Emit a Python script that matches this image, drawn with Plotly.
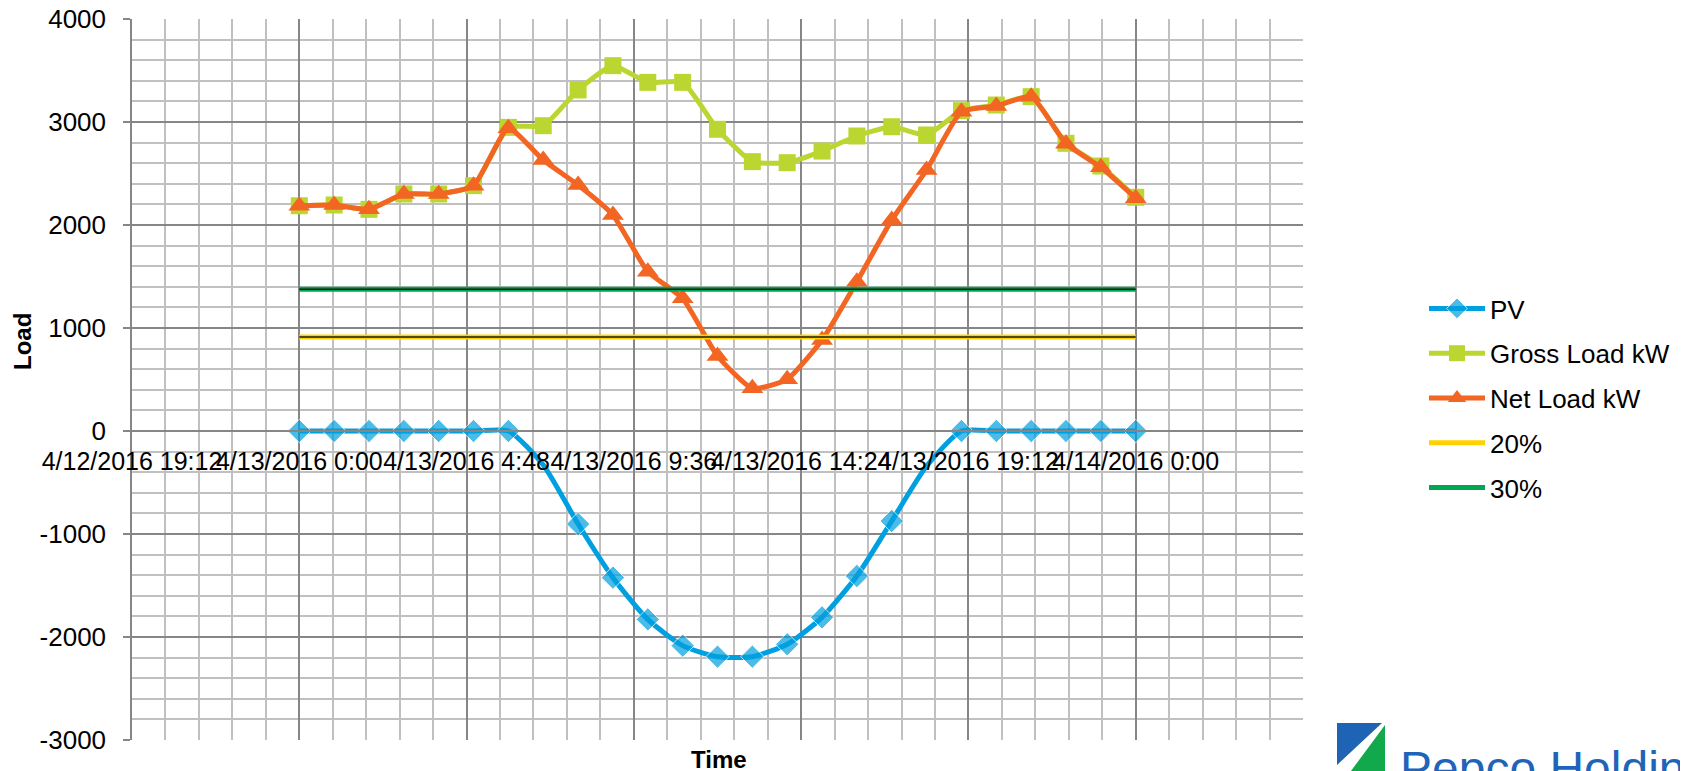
import plotly.graph_objects as go
import pandas as pd

# ---- data (hourly, 4/13/2016 0:00 .. 4/14/2016 0:00) ----
times = pd.date_range("2016-04-13 00:00", "2016-04-14 00:00", freq="h")

pv = [0, 0, 0, 0, 0, 0, 0, -330, -903, -1424, -1829, -2084, -2191,
      -2191, -2071, -1809, -1408, -874, -340, 0, 0, 0, 0, 0, 0]
gross = [2187, 2194, 2152, 2301, 2301, 2382, 2948, 2964, 3311, 3547, 3385,
         3385, 2929, 2615, 2605, 2718, 2864, 2954, 2874, 3110, 3165, 3246,
         2793, 2573, 2269]
net = [2187, 2194, 2152, 2301, 2301, 2382, 2940, 2631, 2388, 2097, 1547,
       1288, 728, 414, 502, 883, 1450, 2049, 2534, 3100, 3155, 3246,
       2790, 2560, 2260]
pct20 = [912] * 25
pct30 = [1376] * 25

series_names = ["PV", "Gross Load kW", "Net Load kW", "20%", "30%"]

x_tick_vals = pd.date_range("2016-04-12 19:12", "2016-04-14 04:48", freq="288min")
x_tick_text = ["4/12/2016 19:12", "4/13/2016 0:00", "4/13/2016 4:48",
               "4/13/2016 9:36", "4/13/2016 14:24", "4/13/2016 19:12",
               "4/14/2016 0:00", ""]
y_tick_vals = [-3000, -2000, -1000, 0, 1000, 2000, 3000, 4000]
y_tick_text = ["-3000", "-2000", "-1000", "0", "1000", "2000", "3000", "4000"]

# ---- layout geometry (page pixels; page body has an 8px margin) ----
OFF = 8
PAGE_W, PAGE_H = 1688, 771
W, H = PAGE_W - OFF, PAGE_H - OFF
L, R, T, B = 132, 1303, 19, 740  # plot area in page pixels


def px_x(p):
    return (p - L) / (R - L)


def px_y(p):
    return (B - p) / (B - T)


C_PV = "#009FDF"
C_GROSS = "#BCD631"
C_NET = "#F26522"
C_20 = "#FFD100"
C_30 = "#00A650"
MAJOR = "#868686"
MINOR = "#C0C0C0"

fig = go.Figure()

pv_sizes = [18] * 25
pv_sizes[7] = 0
pv_sizes[18] = 0

fig.add_trace(go.Scatter(
    x=times, y=pv, name=series_names[0], mode="lines+markers",
    line=dict(color=C_PV, width=5, shape="spline", smoothing=0.6),
    marker=dict(symbol="diamond", size=pv_sizes, color=C_PV),
    legendgroup="a"))
fig.add_trace(go.Scatter(
    x=times, y=gross, name=series_names[1], mode="lines+markers",
    line=dict(color=C_GROSS, width=5, shape="spline", smoothing=0.5),
    marker=dict(symbol="square", size=17, color=C_GROSS),
    legendgroup="b"))
fig.add_trace(go.Scatter(
    x=times, y=net, name=series_names[2], mode="lines+markers",
    line=dict(color=C_NET, width=5, shape="spline", smoothing=0.5),
    marker=dict(symbol="triangle-up", size=19, color=C_NET),
    legendgroup="c"))
fig.add_trace(go.Scatter(
    x=times, y=pct20, name=series_names[3], mode="lines",
    line=dict(color=C_20, width=5), legendgroup="d"))
fig.add_trace(go.Scatter(
    x=times, y=pct20, mode="lines", showlegend=False, hoverinfo="skip",
    line=dict(color="#1a1a1a", width=1.5), legendgroup="d"))
fig.add_trace(go.Scatter(
    x=times, y=pct30, name=series_names[4], mode="lines",
    line=dict(color=C_30, width=5), legendgroup="e"))
fig.add_trace(go.Scatter(
    x=times, y=pct30, mode="lines", showlegend=False, hoverinfo="skip",
    line=dict(color="#1a1a1a", width=1.5), legendgroup="e"))

font = "Liberation Sans, Arial, sans-serif"

fig.update_layout(
    width=W, height=H,
    margin=dict(l=L - OFF, r=PAGE_W - R, t=T - OFF, b=PAGE_H - B,
                autoexpand=False),
    paper_bgcolor="white", plot_bgcolor="white",
    font=dict(family=font, size=25, color="black"),
    showlegend=True,
    legend=dict(x=px_x(1424), y=px_y(285), xanchor="left", yanchor="top",
                font=dict(size=26), traceorder="grouped",
                tracegroupgap=8, itemwidth=56, bgcolor="rgba(0,0,0,0)"),
    xaxis=dict(
        type="date",
        range=["2016-04-12 19:12", "2016-04-14 04:48"],
        tickmode="array", tickvals=x_tick_vals, ticktext=x_tick_text,
        tickangle=0, tickfont=dict(size=25), ticks="",
        ticklabelstandoff=8, ticklabeloverflow="allow",
        showgrid=True, gridcolor=MAJOR, gridwidth=1.5,
        minor=dict(dtick=0.96 * 3600 * 1000, tick0="2016-04-12 19:12",
                   showgrid=True, gridcolor=MINOR, gridwidth=1.5),
        showline=True, linecolor=MAJOR, linewidth=1.5,
        anchor="free", position=3 / 7, zeroline=False,
        automargin=False,
    ),
    yaxis=dict(
        range=[-3000, 4000],
        tickmode="array", tickvals=y_tick_vals, ticktext=y_tick_text,
        tickfont=dict(size=26), ticks="outside", ticklen=7,
        tickcolor=MAJOR, tickwidth=1.5, ticklabelstandoff=12,
        ticklabeloverflow="allow",
        showgrid=True, gridcolor=MAJOR, gridwidth=1.5,
        minor=dict(dtick=200, showgrid=True, gridcolor=MINOR, gridwidth=1.5),
        showline=True, linecolor=MAJOR, linewidth=1.5,
        zeroline=False, automargin=False,
    ),
)

fig.add_annotation(text="<b>Load</b>", xref="paper", yref="paper",
                   x=px_x(22), y=px_y(342), textangle=-90, showarrow=False,
                   xanchor="center", yanchor="middle",
                   font=dict(size=24, family=font))
fig.add_annotation(text="<b>Time</b>", xref="paper", yref="paper",
                   x=px_x(719), y=px_y(759), showarrow=False,
                   xanchor="center", yanchor="middle",
                   font=dict(size=24, family=font))


# logo
def path(pts):
    return "M " + " L ".join(f"{px_x(a)},{px_y(b)}" for a, b in pts) + " Z"


fig.add_shape(type="path", xref="paper", yref="paper",
              path=path([(1337, 723), (1382, 723), (1337, 765)]),
              fillcolor="#1F63B5", line=dict(width=0))
fig.add_shape(type="path", xref="paper", yref="paper",
              path=path([(1385, 725), (1385, 775), (1348, 775)]),
              fillcolor="#12A84C", line=dict(width=0))
fig.add_annotation(text="Pepco Holdings", xref="paper", yref="paper",
                   x=px_x(1398), y=px_y(768), xanchor="left", yanchor="middle",
                   showarrow=False,
                   font=dict(size=48, family=font, color="#1E64B8"))

fig.write_html("out.html")
